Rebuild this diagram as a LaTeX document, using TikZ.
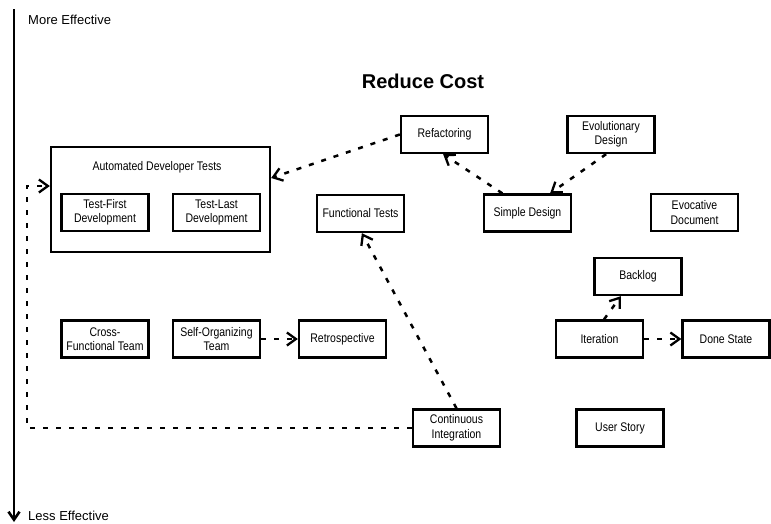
\documentclass[tikz,border=0pt]{standalone}
\usepackage{fontspec}
\setmainfont{Liberation Sans}
\newfontfamily\narrowfont{Liberation Sans}[FakeStretch=0.84]
\usetikzlibrary{arrows.meta,calc}

\tikzset{
  practice/.style={draw, line width=2.3pt, minimum width=87pt, minimum height=37pt, inner sep=1pt, align=center, font=\narrowfont\fontsize{12.5}{14.5}\selectfont},
  supports/.style={line width=2.5pt, dash pattern=on 5pt off 8pt, -{Straight Barb[length=9pt,width=13pt,line width=2.3pt]}},
  axislabel/.style={anchor=base west, inner sep=0pt, font=\fontsize{13}{15}\selectfont},
}

\begin{document}
\begin{tikzpicture}[x=1pt,y=-1pt]
\useasboundingbox (0,0) rectangle (771,523);

% Axis
\coordinate (axtop) at (14,9);
\coordinate (axbot) at (14,522);
\draw[line width=2.6pt,-{Straight Barb[length=8pt,width=11pt]}] (axtop)--(axbot);
\node[axislabel] (more) at (28,24.5) {More Effective};
\node[axislabel] (less) at (28,520) {Less Effective};

% Title
\node[anchor=base, inner sep=0pt, font=\bfseries\fontsize{20}{24}\selectfont] (title) at (423,88) {Reduce Cost};

% Practices
\node[practice, minimum width=219pt, minimum height=105pt] (adt) at (160.5,199.5) {};
\node[anchor=base, inner sep=0pt, font=\narrowfont\fontsize{12.5}{14.5}\selectfont] (adtlabel) at (157,170) {Automated Developer Tests};
\node[practice] (tfd) at (105,212.5) {Test-First\\Development};
\node[practice] (tld) at (216.5,212.5) {Test-Last\\Development};
\node[practice] (refac) at (444.5,134.5) {Refactoring};
\node[practice] (evo) at (611,134.5) {Evolutionary\\Design};
\node[practice] (ft) at (360.5,213.5) {Functional Tests};
\node[practice] (sd) at (527.5,213) {Simple Design};
\node[practice] (evoc) at (694.5,212.5) {Evocative\\Document};
\node[practice] (backlog) at (638,276.5) {Backlog};
\node[practice] (cft) at (105,339) {Cross-\\Functional Team};
\node[practice] (sot) at (216.5,339) {Self-Organizing\\Team};
\node[practice] (retro) at (342.5,339) {Retrospective};
\node[practice] (iter) at (599.5,339) {Iteration};
\node[practice] (done) at (726,339) {Done State};
\node[practice] (ci) at (456.5,428) {Continuous\\Integration};
\node[practice] (story) at (620,428) {User Story};

% Arrows
\draw[supports] (refac.west)--(adt.11.5);
\draw[supports] (sd.142)--(refac.266);
\draw[supports] (evo.256)--(sd.41);
\draw[supports] (ci.north)--(ft.274);
\draw[supports] (sot.east)--(retro.west);
\draw[supports] (iter.77)--(backlog.229);
\draw[supports] (iter.east)--(done.west);
\coordinate (loop) at (27,186);
\draw[supports] (ci.west)-|(loop)--(loop -| adt.west);

\end{tikzpicture}
\end{document}
